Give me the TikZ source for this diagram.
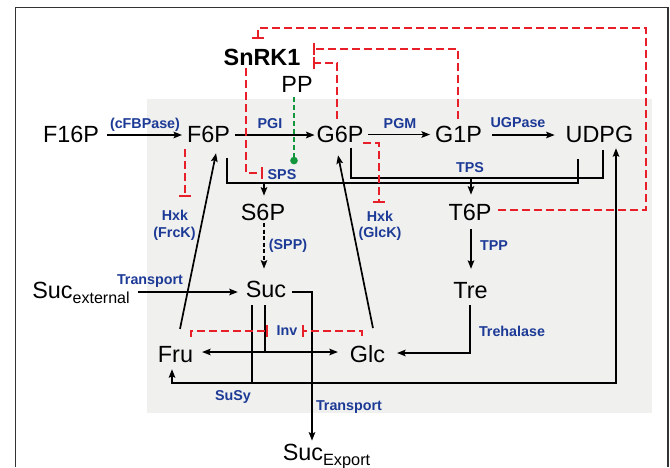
\documentclass[tikz,border=0pt]{standalone}
\usepackage{fontspec}
\setmainfont{Liberation Sans}
\usetikzlibrary{arrows.meta,calc}
\definecolor{enzblue}{RGB}{28,58,150}
\definecolor{inhred}{RGB}{232,30,40}
\definecolor{ppgreen}{RGB}{20,150,60}
\definecolor{bggray}{RGB}{240,240,239}
\begin{document}
\begin{tikzpicture}[x=1pt,y=-1pt,
  met/.style={inner sep=0pt,outer sep=0pt,anchor=base,font=\fontsize{23.4}{28}\selectfont},
  enz/.style={inner sep=0pt,outer sep=0pt,anchor=base,text=enzblue,font=\bfseries\fontsize{14.3}{16}\selectfont},
  tip/.style={-{Stealth[length=8.5pt,width=6.5pt,inset=1.5pt]}},
  bitip/.style={{Stealth[length=8.5pt,width=6.5pt,inset=1.5pt]}-{Stealth[length=8.5pt,width=6.5pt,inset=1.5pt]}},
  rxn/.style={line width=1.7pt,black},
  inh/.style={draw=inhred,line width=1.9pt,dash pattern=on 8pt off 4pt,-{Bar[width=12pt,line width=1.9pt]}},
  actpp/.style={draw=ppgreen,line width=1.7pt,dash pattern=on 5pt off 3pt,-{Circle[length=7.5pt,fill=ppgreen]}}
]
\useasboundingbox (0,0) rectangle (670,467);
\fill[bggray] (147,98.5) rectangle (652,413);
\draw[line width=1.3pt,black!80] (15.5,467) -- (15.5,7.5) -- (668,7.5) -- (668,467);

% metabolites
\node[met,font=\bfseries\fontsize{23.4}{28}\selectfont] (SnRK1) at (262,65) {SnRK1};
\node[met] (PP) at (297,92) {PP};
\node[met] (F16P) at (71,142) {F16P};
\node[met] (F6P) at (208.5,142.5) {F6P};
\node[met] (G6P) at (340,142.5) {G6P};
\node[met] (G1P) at (458.5,142.5) {G1P};
\node[met] (UDPG) at (599.5,142.5) {UDPG};
\node[met] (S6P) at (263,220) {S6P};
\node[met] (T6P) at (470,220) {T6P};
\node[met] (Sucext) at (81,298) {Suc\raisebox{-5pt}{\fontsize{16}{16}\selectfont external}};
\node[met] (Suc) at (266,297) {Suc};
\node[met] (Tre) at (470.5,298) {Tre};
\node[met] (Fru) at (175.5,362) {Fru};
\node[met] (Glc) at (367.5,362) {Glc};
\node[met] (SucExp) at (326.5,460) {Suc\raisebox{-5pt}{\fontsize{16.3}{16}\selectfont Export}};

% enzymes
\node[enz] (cFBPase) at (145,128.5) {(cFBPase)};
\node[enz] (PGI) at (270,128) {PGI};
\node[enz] (PGM) at (400,128.5) {PGM};
\node[enz] (UGPase) at (518,127.5) {UGPase};
\node[enz] (SPS) at (282,179) {SPS};
\node[enz] (TPS) at (470,172) {TPS};
\node[enz] (HxkF) at (175,220.5) {Hxk};
\node[enz] (FrcK) at (174.5,237.5) {(FrcK)};
\node[enz] (HxkG) at (380,221) {Hxk};
\node[enz] (GlcK) at (380,237.5) {(GlcK)};
\node[enz] (SPP) at (288,249) {(SPP)};
\node[enz] (TPP) at (494,250) {TPP};
\node[enz] (TrIn) at (150,284) {Transport};
\node[enz] (Treh) at (512,336) {Trehalase};
\node[enz] (Inv) at (287,335) {Inv};
\node[enz] (SuSy) at (233,400) {SuSy};
\node[enz] (TrOut) at (349,410) {Transport};

% main chain
\draw[rxn,tip,shorten <=8pt,shorten >=5pt] (F16P.east |- 0,135) -- (F6P.west |- 0,135);
\draw[rxn,tip,shorten <=5pt,shorten >=2pt] (F6P.east |- 0,135) -- (G6P.west |- 0,135);
\draw[rxn,tip,shorten <=5pt,shorten >=5pt] (G6P.east |- 0,134.5) -- (G1P.west |- 0,134.5);
\draw[rxn,tip,shorten <=10pt,shorten >=11pt] (G1P.east |- 0,135) -- (UDPG.west |- 0,135);

% SPS / TPS brackets
\draw[rxn,shorten <=15.5pt,shorten >=16.5pt] (F6P.south -| 227,0) -- (227,183) -- (578,183) -- (UDPG.south -| 578,0);
\draw[rxn,tip,shorten >=8pt] (264,183) -- (S6P.north -| 264,0);
\draw[rxn,shorten <=5pt,shorten >=7.5pt] (G6P.south -| 351,0) -- (351,178) -- (603,178) -- (UDPG.south -| 603,0);
\draw[rxn,tip,shorten >=9pt] (471,178) -- (T6P.north -| 471,0);

% S6P -> Suc (SPP), T6P -> Tre (TPP)
\draw[rxn,tip,dash pattern=on 4pt off 2.5pt,shorten <=3pt,shorten >=12pt] (S6P.south -| 264,0) -- (Suc.north -| 264,0);
\draw[rxn,tip,shorten <=9pt,shorten >=13pt] (T6P.south -| 471,0) -- (Tre.north -| 471,0);

% transport in / out
\draw[rxn,tip,shorten <=8pt,shorten >=8pt] (Sucext.east |- 0,292) -- (Suc.west |- 0,292);
\draw[rxn,tip,shorten <=6pt,shorten >=3pt] (Suc.east |- 0,292) -- (312,292) -- (SucExp.north -| 312,0);

% SuSy
\draw[rxn,shorten <=8pt] (Suc.south -| 252,0) -- (252,383);
\draw[rxn,bitip,shorten <=7pt,shorten >=5.5pt] (Fru.south -| 172,0) -- (172,383) -- (616,383) -- (UDPG.south -| 616,0);
% Inv
\draw[rxn,shorten <=8pt] (Suc.south -| 265,0) -- (265,352);
\draw[rxn,bitip,shorten <=9pt,shorten >=12pt] (Fru.east |- 0,352) -- (Glc.west |- 0,352);
% Trehalase
\draw[rxn,tip,shorten <=7pt,shorten >=12pt] (Tre.south -| 470,0) -- (470,353) -- (Glc.east |- 0,353);
% hexoses back to hexose phosphates
\draw[rxn,tip,shorten <=17.4pt,shorten >=10.7pt] (Fru.north -| 176.5,0) -- (F6P.south -| 218.2,0);
\draw[rxn,tip,shorten <=17.3pt,shorten >=12.8pt] (Glc.north -| 376.4,0) -- (G6P.south -| 335.5,0);

% inhibitions
\draw[inh,shorten <=3pt,shorten >=5pt] (SnRK1.south -| 246,0) -- (246,173) -- (SPS.west |- 0,173);
\draw[inh,shorten <=6.5pt,shorten >=13pt] (F6P.south -| 185,0) -- (HxkF.north -| 185,0);
\draw[inh,shorten >=8pt] (G6P.east |- 0,143) -- (379,143) -- (HxkG.north -| 379,0);
\draw[inh,shorten <=7.5pt] (G6P.north -| 337,0) -- (337,63) -- ($(SnRK1.east |- 0,63)+(13,0)$);
\draw[inh,shorten <=7.5pt] (G1P.north -| 458,0) -- (458,49) -- ($(SnRK1.east |- 0,49)+(13,0)$);
\draw[inh,shorten <=7pt,shorten >=10pt] (T6P.east |- 0,210) -- (646,210) -- (646,28) -- (258,28) -- (SnRK1.north -| 258,0);
\draw[inh,shorten <=9pt,shorten >=8.5pt] (Fru.north -| 191,0) -- (191,331) -- (Inv.west |- 0,331);
\draw[inh,shorten <=9pt] (Glc.north -| 362,0) -- (362,331) -- ($(Inv.east |- 0,331)+(4.5,0)$);

% PP activation
\draw[actpp,shorten <=5pt,shorten >=4.7pt] (PP.south -| 294,0) -- (SPS.north -| 294,0);
\end{tikzpicture}
\end{document}
